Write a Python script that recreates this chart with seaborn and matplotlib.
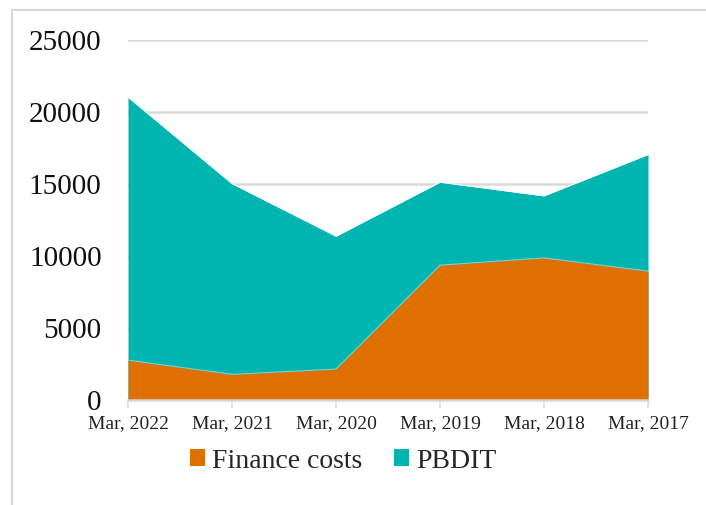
import matplotlib
matplotlib.use("Agg")
import matplotlib.pyplot as plt
import seaborn as sns
import pandas as pd
from matplotlib.patches import Patch, Rectangle

categories = ["Mar, 2022", "Mar, 2021", "Mar, 2020", "Mar, 2019", "Mar, 2018", "Mar, 2017"]
finance_costs = [2770, 1780, 2150, 9360, 9870, 8950]
pbdit = [21030, 15020, 11370, 15120, 14170, 17040]
y_ticks = [0, 5000, 10000, 15000, 20000, 25000]

ORANGE = "#DF6F00"
TEAL = "#00B5AF"
GRID = "#D9D9D9"

sns.set_theme(style="white")
plt.rcParams["font.family"] = ["Liberation Serif", "DejaVu Serif"]

df = pd.DataFrame({"period": categories, "pos": range(len(categories)),
                   "Finance costs": finance_costs, "PBDIT": pbdit})

W, H = 706, 505
fig = plt.figure(figsize=(W / 100, H / 100), dpi=100)
fig.patch.set_facecolor("white")

# outer chart border (right/bottom edges cut off)
fig.add_artist(Rectangle((12 / W, -0.05), 1.2, 1 - 10 / H + 0.05, transform=fig.transFigure,
                         fill=False, edgecolor="#D9D9D9", linewidth=1.5))

ax = fig.add_axes([128 / W, 1 - 400 / H, (648 - 128) / W, 360 / H])
ax.set_xlim(0, len(categories) - 1)
ax.set_ylim(0, 25000)

for yv in y_ticks[1:]:
    ax.axhline(yv, color=GRID, linewidth=1.8, zorder=0)

ax.fill_between(df["pos"], 0, df["PBDIT"], color=TEAL, linewidth=0, zorder=2)
ax.fill_between(df["pos"], 0, df["Finance costs"], color=ORANGE, linewidth=0, zorder=3)
sns.lineplot(data=df, x="pos", y="Finance costs", ax=ax, color="#7FD0C8", linewidth=0.8, zorder=4)
sns.lineplot(data=df, x="pos", y="PBDIT", ax=ax, color="white", linewidth=0.6, zorder=4)

ax.set_xticks(df["pos"])
ax.set_xticklabels(categories, fontsize=14, color="#222222")
ax.set_yticks(y_ticks)
ax.set_yticklabels([str(v) for v in y_ticks], fontsize=21, color="#111111")
ax.set_xlabel("")
ax.set_ylabel("")

for s in ["top", "right", "left"]:
    ax.spines[s].set_visible(False)
ax.spines["bottom"].set_color(GRID)
ax.spines["bottom"].set_linewidth(1.8)
ax.spines["bottom"].set_zorder(5)
ax.tick_params(axis="x", which="both", bottom=True, length=6, width=1.2, color=GRID, pad=5)
ax.tick_params(axis="y", which="both", left=False, length=0, pad=19)

handles = [Patch(facecolor=ORANGE, edgecolor="none", label="Finance costs"),
           Patch(facecolor=TEAL, edgecolor="none", label="PBDIT")]
fig.legend(handles=handles, loc="center", bbox_to_anchor=(343 / W, 1 - 461 / H), ncol=2,
           frameon=False, fontsize=20, handlelength=0.55, handleheight=0.55,
           handletextpad=0.25, columnspacing=1.15)

fig.savefig("out.png", dpi=100, facecolor="white")
